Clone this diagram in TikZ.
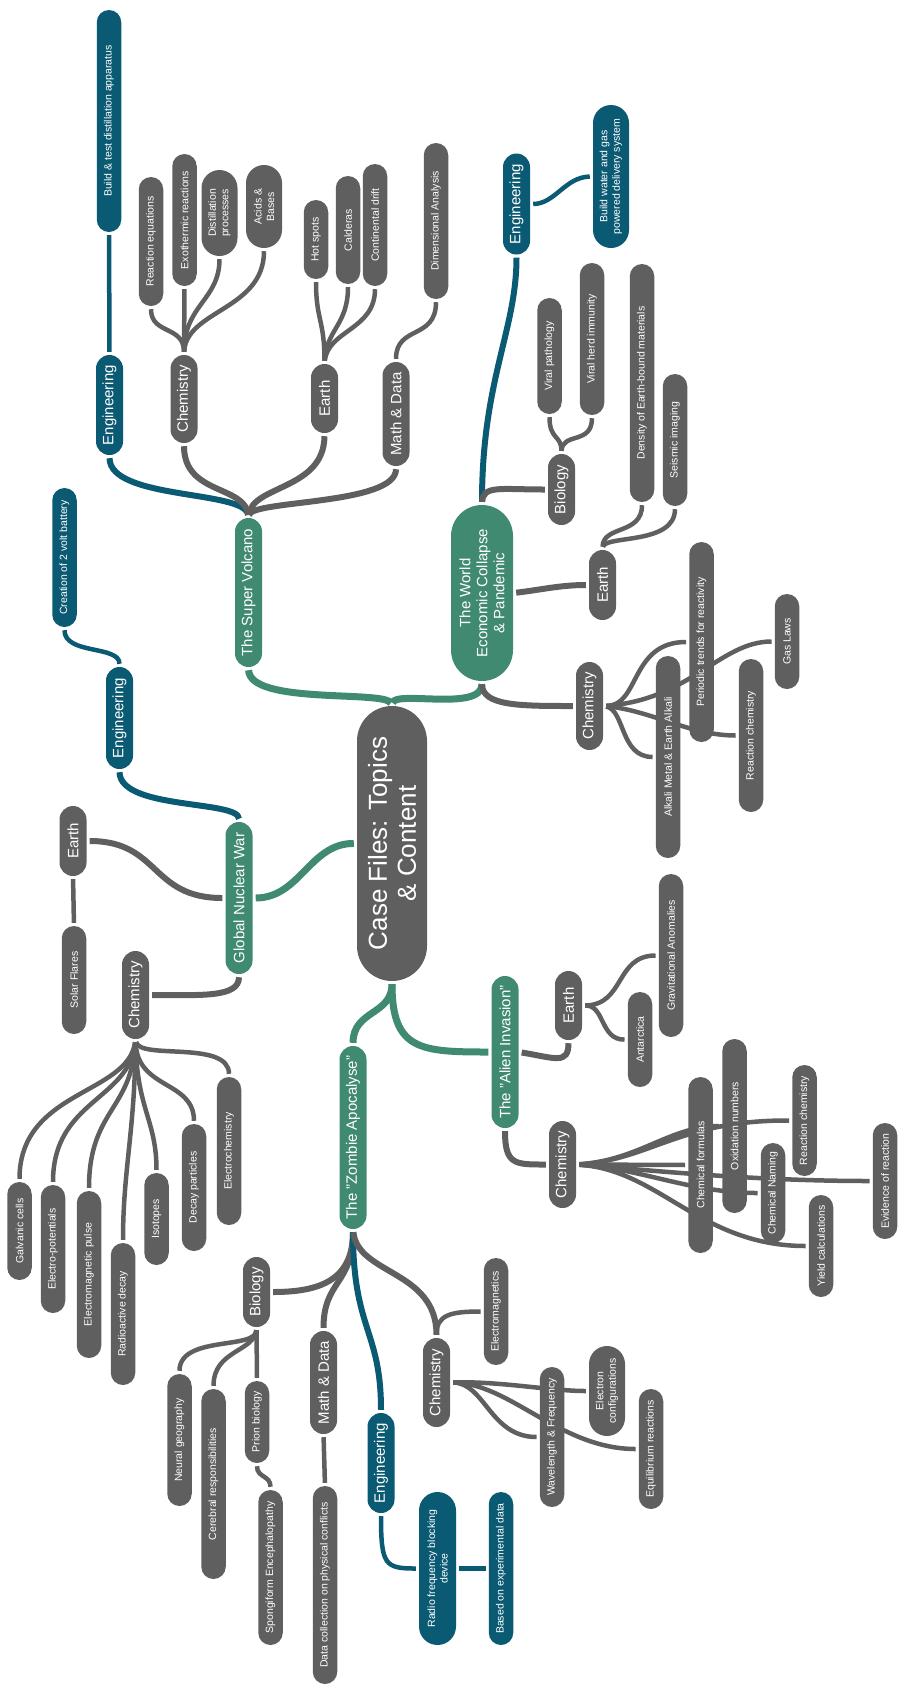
\documentclass[tikz,border=0pt]{standalone}
\usepackage{fontspec}
\setmainfont{Liberation Sans}
\usetikzlibrary{backgrounds}

\definecolor{mapgray}{HTML}{5F5F5F}
\definecolor{mapgreen}{HTML}{3F8A71}
\definecolor{mapblue}{HTML}{0B5A74}

\tikzset{
  pill/.style={rectangle, rotate=90, text=white, align=center, inner xsep=4pt, inner ysep=1pt},
  leafbox/.style={pill, fill=mapgray, font=\fontsize{10.5}{12.5}\selectfont, minimum height=24.5pt, rounded corners=12.25pt},
  twoleaf/.style={leafbox, minimum height=36pt, rounded corners=18pt},
  engleaf/.style={leafbox, fill=mapblue},
  subbox/.style={pill, fill=mapgray, font=\fontsize{15}{17}\selectfont, minimum height=27pt, rounded corners=13.5pt},
  engbox/.style={subbox, fill=mapblue},
  topicbox/.style={subbox, fill=mapgreen},
  greenlink/.style={draw=mapgreen, line width=7pt, shorten <=3pt, shorten >=3pt},
  graylink/.style={draw=mapgray, line width=6pt, shorten <=3pt, shorten >=3pt},
  bluelink/.style={draw=mapblue, line width=6pt, shorten <=3pt, shorten >=3pt},
  leaflink/.style={draw=mapgray, line width=4.5pt, shorten <=3pt, shorten >=3pt},
  blueleaf/.style={leaflink, draw=mapblue}
}

\begin{document}
\begin{tikzpicture}[x=1pt, y=-1pt]
  \useasboundingbox (0,0) rectangle (899,1690);

  % Define centre and topics
  \node[pill, fill=mapgray, font=\fontsize{26}{29}\selectfont, minimum height=70pt, rounded corners=35pt, minimum width=275pt] (cf) at (392,843.5) {Case Files: Topics\\\& Content};
  \node[topicbox, minimum width=149pt] (sv) at (248.5,592.5) {The Super Volcano};
  \node[topicbox, minimum width=152pt] (gnw) at (239,898) {Global Nuclear War};
  \node[topicbox, minimum width=183pt] (zom) at (353,1137.5) {The "Zombie Apocalyse"};
  \node[topicbox, minimum height=62pt, rounded corners=31pt, minimum width=176pt] (wec) at (482,593) {The World\\Economic Collapse\\\& Pandemic};
  \node[topicbox, minimum width=152pt] (ali) at (505,1052) {The "Alien Invasion"};

  % Define subjects
  \node[engbox, minimum width=100pt] (sveng) at (109.5,405) {Engineering};
  \node[subbox, minimum width=88pt] (svchem) at (184,399) {Chemistry};
  \node[subbox, minimum width=69pt] (svearth) at (324.5,398.5) {Earth};
  \node[subbox, minimum width=104pt] (svmath) at (396,414) {Math \& Data};
  \node[engbox, minimum width=102pt] (gnweng) at (119.5,718) {Engineering};
  \node[subbox, minimum width=70pt] (gnwearth) at (73,841) {Earth};
  \node[subbox, minimum width=88pt] (gnwchem) at (135.5,995) {Chemistry};
  \node[subbox, minimum width=70pt] (zbio) at (256.5,1292) {Biology};
  \node[subbox, minimum width=103pt] (zmath) at (323.5,1382.5) {Math \& Data};
  \node[engbox, minimum width=100pt] (zeng) at (381,1463) {Engineering};
  \node[subbox, minimum width=89pt] (zchem) at (436.5,1382.5) {Chemistry};
  \node[engbox, minimum width=101pt] (weng) at (516.5,204) {Engineering};
  \node[subbox, minimum width=71pt] (wbio) at (561.5,489.5) {Biology};
  \node[subbox, minimum width=70pt] (wearth) at (602.5,585) {Earth};
  \node[subbox, minimum width=88pt] (wchem) at (589.5,706) {Chemistry};
  \node[subbox, minimum width=69pt] (aearth) at (568.5,1005.5) {Earth};
  \node[subbox, minimum width=87pt] (achem) at (562.5,1164.5) {Chemistry};

  % Super volcano leaves
  \node[engleaf, minimum width=222pt] (svbuild) at (109,121) {Build \& test distillation apparatus};
  \node[leafbox, minimum width=129pt] (reqn) at (151,241.5) {Reaction equations};
  \node[leafbox, minimum width=132pt] (exo) at (184.5,220) {Exothermic reactions};
  \node[twoleaf, minimum width=86pt] (dist) at (219.5,213) {Distillation\\processes};
  \node[twoleaf, minimum width=83pt] (acid) at (264,206.5) {Acids \&\\Bases};
  \node[leafbox, minimum width=79pt] (hot) at (316,239.5) {Hot spots};
  \node[leafbox, minimum width=108pt] (cald) at (348,230) {Calderas};
  \node[leafbox, minimum width=122pt] (cont) at (375,225) {Continental drift};
  \node[leafbox, minimum width=156pt] (dim) at (436,221) {Dimensional Analysis};

  % Nuclear war leaves
  \node[engleaf, minimum width=139pt] (batt) at (64.5,557.5) {Creation of 2 volt battery};
  \node[leafbox, minimum width=108pt] (solar) at (74,980) {Solar Flares};
  \node[leafbox, minimum width=98pt] (galv) at (19.5,1231) {Galvanic cells};
  \node[leafbox, minimum width=128pt] (epot) at (53,1249) {Electro-potentials};
  \node[leafbox, minimum width=167pt] (emp) at (89,1274.5) {Electromagnetic pulse};
  \node[leafbox, minimum width=142pt] (rad) at (123,1314) {Radioactive decay};
  \node[leafbox, minimum width=92pt] (iso) at (156.5,1219) {Isotopes};
  \node[leafbox, minimum width=127pt] (decay) at (194,1187.5) {Decay particles};
  \node[leafbox, minimum width=148pt] (echem) at (229,1151) {Electrochemistry};

  % Zombie leaves
  \node[leafbox, minimum width=132pt] (neural) at (179.5,1440) {Neural geography};
  \node[leafbox, minimum width=190pt] (cereb) at (213.5,1484) {Cerebral responsibilities};
  \node[leafbox, minimum width=82pt] (prion) at (257,1422) {Prion biology};
  \node[leafbox, minimum width=155pt] (spong) at (270.5,1567.5) {Spongiform Encephalopathy};
  \node[leafbox, minimum width=198pt] (datacol) at (325,1585) {Data collection on physical conflicts};
  \node[engleaf, minimum height=37pt, rounded corners=18.5pt, minimum width=153pt] (radio) at (437.5,1568.5) {Radio frequency blocking\\device};
  \node[engleaf, minimum width=153pt] (based) at (501,1568.5) {Based on experimental data};
  \node[leafbox, minimum width=107pt] (emag) at (496,1311.5) {Electromagnetics};
  \node[leafbox, minimum width=140pt] (wave) at (552,1437) {Wavelength \& Frequency};
  \node[twoleaf, minimum width=90pt] (econf) at (607,1391) {Electron\\configurations};
  \node[leafbox, minimum width=120pt] (equil) at (651,1449) {Equilibrium reactions};

  % World collapse leaves
  \node[engleaf, minimum height=36pt, rounded corners=18pt, minimum width=143pt] (wbuild) at (611,176.5) {Build water and gas\\powered delivery system};
  \node[leafbox, minimum width=116pt] (vpath) at (549.5,356) {Viral pathology};
  \node[leafbox, minimum width=152pt] (vherd) at (592,339) {Viral herd immunity};
  \node[leafbox, minimum width=238pt] (dens) at (642,383) {Density of Earth-bound materials};
  \node[leafbox, minimum width=132pt] (seis) at (675,440) {Seismic imaging};
  \node[leafbox, minimum width=202pt] (alk) at (668,757) {Alkali Metal \& Earth Alkali};
  \node[leafbox, minimum width=200pt] (peri) at (701.5,642) {Periodic trends for reactivity};
  \node[leafbox, minimum width=153pt] (wreact) at (751,735.5) {Reaction chemistry};
  \node[leafbox, minimum width=95pt] (gas) at (787,641.5) {Gas Laws};

  % Alien leaves
  \node[leafbox, minimum width=163pt] (grav) at (671,955.5) {Gravitational Anomalies};
  \node[leafbox, minimum width=95pt] (ant) at (640,1039.5) {Antarctica};
  \node[leafbox, minimum width=176pt] (cform) at (700.5,1165) {Chemical formulas};
  \node[leafbox, minimum width=174pt] (oxid) at (734.5,1126) {Oxidation numbers};
  \node[leafbox, minimum width=100pt] (cname) at (773,1193) {Chemical Naming};
  \node[leafbox, minimum width=111pt] (areact) at (804.5,1120.5) {Reaction chemistry};
  \node[leafbox, minimum width=116pt] (evid) at (885,1181) {Evidence of reaction};
  \node[leafbox, minimum width=102pt] (yield) at (821,1246) {Yield calculations};

  \begin{scope}[on background layer]
    % Draw topic branches
    \draw[greenlink] (cf.east) .. controls (385,690) and (250,705) .. (sv.west);
    \draw[greenlink] (cf.east) .. controls (395,690) and (482,712) .. (wec.west);
    \draw[greenlink] (cf.north) .. controls (310,843) and (300,898) .. (gnw.south);
    \draw[greenlink] (cf.west) .. controls (392,1015) and (353,1010) .. (zom.east);
    \draw[greenlink] (cf.west) .. controls (392,1050) and (420,1052) .. (ali.north);

    % Draw subject branches
    \draw[bluelink] (sv.east) .. controls (245,490) and (110,500) .. (sveng.west);
    \draw[graylink] (sv.east) .. controls (245,485) and (184,495) .. (svchem.west);
    \draw[graylink] (sv.east) .. controls (252,485) and (324,490) .. (svearth.west);
    \draw[graylink] (sv.east) .. controls (252,500) and (396,505) .. (svmath.west);
    \draw[bluelink] (gnw.east) .. controls (239,800) and (120,810) .. (gnweng.west);
    \draw[graylink] (gnw.north) .. controls (150,898) and (160,841) .. (gnwearth.south);
    \draw[graylink] (gnw.west) .. controls (239,998) and (200,995) .. (gnwchem.south);
    \draw[graylink] (zom.west) .. controls (353,1280) and (320,1292) .. (zbio.south);
    \draw[graylink] (zom.west) .. controls (353,1285) and (323.5,1280) .. (zmath.east);
    \draw[bluelink] (zom.west) .. controls (353,1330) and (381,1330) .. (zeng.east);
    \draw[graylink] (zom.west) .. controls (358,1275) and (436.5,1270) .. (zchem.east);
    \draw[bluelink] (wec.east) .. controls (482,380) and (516.5,330) .. (weng.west);
    \draw[graylink] (wec.east) .. controls (483,485) and (500,489.5) .. (wbio.north);
    \draw[graylink] (wec.south) .. controls (540,590) and (560,585) .. (wearth.north);
    \draw[graylink] (wec.west) .. controls (482,706) and (520,706) .. (wchem.north);
    \draw[graylink] (ali.south) .. controls (555,1058) and (568.5,1065) .. (aearth.west);
    \draw[graylink] (ali.west) .. controls (505,1165) and (515,1164.5) .. (achem.north);

    % Draw leaf branches
    \draw[blueleaf] (sveng.east) -- (svbuild.west);
    \draw[leaflink] (svchem.east) .. controls (184,325) and (151,335) .. (reqn.west);
    \draw[leaflink] (svchem.east) -- (exo.west);
    \draw[leaflink] (svchem.east) .. controls (184,305) and (219.5,300) .. (dist.west);
    \draw[leaflink] (svchem.east) .. controls (186,310) and (264,310) .. (acid.west);
    \draw[leaflink] (svearth.east) .. controls (324.5,320) and (316,320) .. (hot.west);
    \draw[leaflink] (svearth.east) .. controls (326,330) and (348,325) .. (cald.west);
    \draw[leaflink] (svearth.east) .. controls (328,330) and (375,330) .. (cont.west);
    \draw[leaflink] (svmath.east) .. controls (396,325) and (436,340) .. (dim.west);

    \draw[blueleaf] (gnweng.east) .. controls (119.5,645) and (64.5,655) .. (batt.west);
    \draw[leaflink] (gnwearth.west) -- (solar.east);
    \draw[leaflink] (gnwchem.west) .. controls (140,1060) and (229,1040) .. (echem.east);
    \draw[leaflink] (gnwchem.west) .. controls (137,1090) and (194,1080) .. (decay.east);
    \draw[leaflink] (gnwchem.west) .. controls (137,1110) and (156.5,1120) .. (iso.east);
    \draw[leaflink] (gnwchem.west) .. controls (135,1130) and (123,1170) .. (rad.east);
    \draw[leaflink] (gnwchem.west) .. controls (132,1110) and (89,1110) .. (emp.east);
    \draw[leaflink] (gnwchem.west) .. controls (130,1100) and (53,1100) .. (epot.east);
    \draw[leaflink] (gnwchem.west) .. controls (128,1095) and (19.5,1090) .. (galv.east);

    \draw[leaflink] (zbio.west) .. controls (256.5,1350) and (179.5,1335) .. (neural.east);
    \draw[leaflink] (zbio.west) .. controls (254,1352) and (213.5,1350) .. (cereb.east);
    \draw[leaflink] (zbio.west) -- (prion.east);
    \draw[leaflink] (prion.west) .. controls (257,1478) and (270.5,1475) .. (spong.east);
    \draw[leaflink] (zmath.west) -- (datacol.east);
    \draw[blueleaf] (zeng.west) .. controls (381,1565) and (385,1568.5) .. (radio.north);
    \draw[blueleaf] (radio.south) -- (based.north);
    \draw[leaflink] (zchem.east) .. controls (436.5,1315) and (450,1311.5) .. (emag.north);
    \draw[leaflink] (zchem.south) .. controls (500,1381) and (550,1391) .. (econf.north);
    \draw[leaflink] (zchem.south) .. controls (485,1383) and (490,1437) .. (wave.north);
    \draw[leaflink] (zchem.south) .. controls (510,1383) and (560,1449) .. (equil.north);

    \draw[blueleaf] (weng.south) .. controls (555,204) and (565,177) .. (wbuild.north);
    \draw[leaflink] (wbio.east) .. controls (561.5,435) and (549.5,440) .. (vpath.west);
    \draw[leaflink] (wbio.east) .. controls (562,432) and (592,445) .. (vherd.west);
    \draw[leaflink] (wearth.east) .. controls (603,525) and (642,535) .. (dens.west);
    \draw[leaflink] (wearth.east) .. controls (605,535) and (675,545) .. (seis.west);
    \draw[leaflink] (wchem.south) .. controls (640,706) and (630,642) .. (peri.north);
    \draw[leaflink] (wchem.south) .. controls (690,700) and (720,641.5) .. (gas.north);
    \draw[leaflink] (wchem.south) .. controls (650,710) and (690,735.5) .. (wreact.north);
    \draw[leaflink] (wchem.south) .. controls (625,710) and (620,757) .. (alk.north);

    \draw[leaflink] (aearth.south) .. controls (625,1005) and (615,955.5) .. (grav.north);
    \draw[leaflink] (aearth.south) .. controls (605,1005) and (600,1040) .. (ant.north);
    \draw[leaflink] (achem.south) .. controls (650,1160) and (680,1120) .. (areact.north);
    \draw[leaflink] (achem.south) .. controls (640,1160) and (670,1126) .. (oxid.north);
    \draw[leaflink] (achem.south) -- (cform.north);
    \draw[leaflink] (achem.south) .. controls (650,1170) and (750,1181) .. (evid.north);
    \draw[leaflink] (achem.south) .. controls (640,1168) and (690,1193) .. (cname.north);
    \draw[leaflink] (achem.south) .. controls (660,1170) and (700,1246) .. (yield.north);
  \end{scope}
\end{tikzpicture}
\end{document}
